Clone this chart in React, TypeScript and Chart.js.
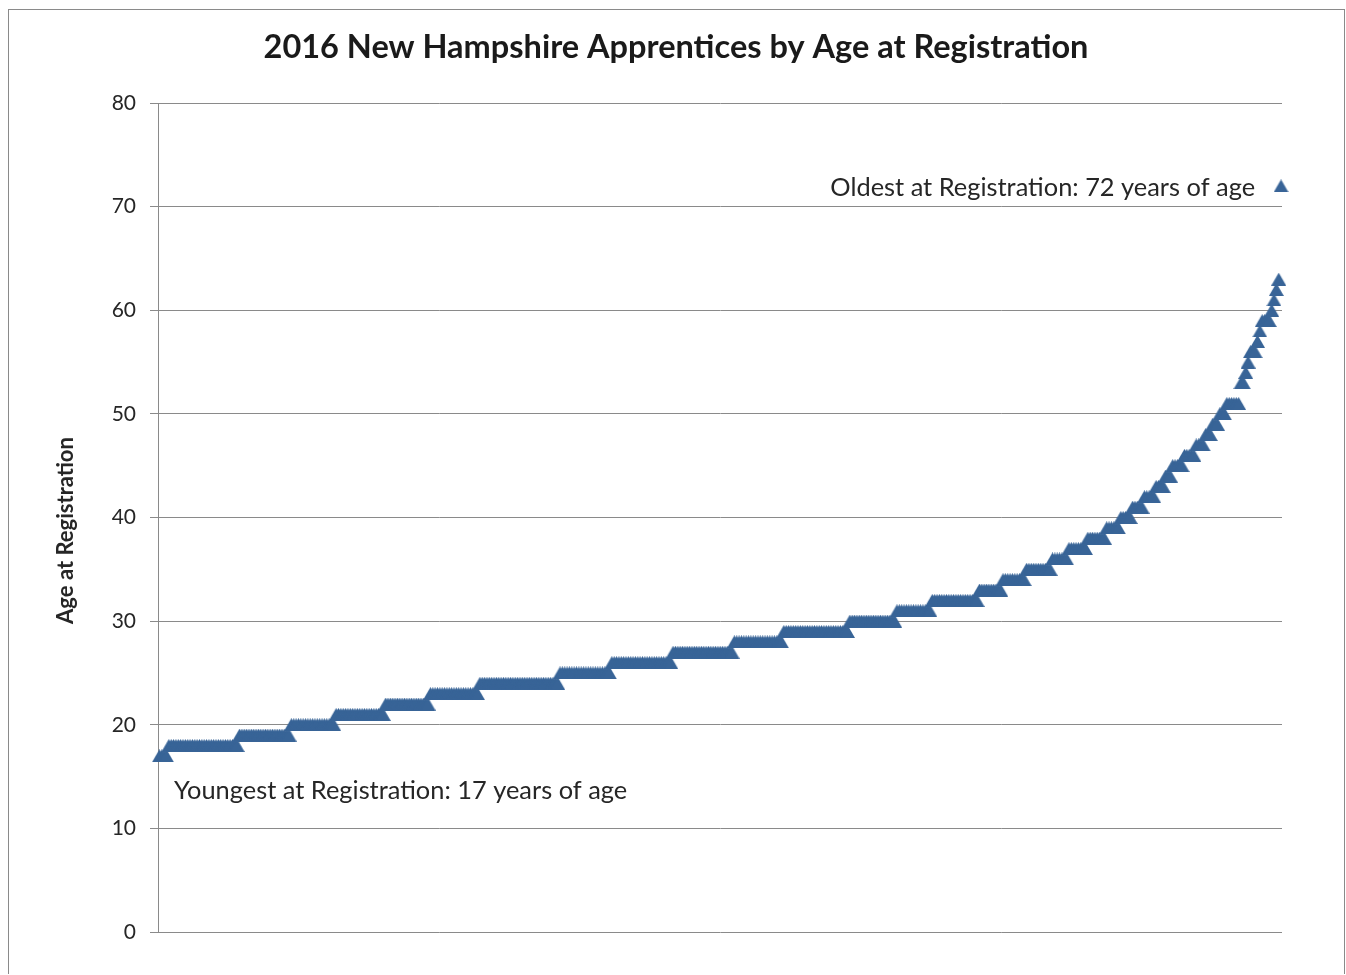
import React, { useEffect, useRef } from 'react';
import { Chart, registerables } from 'chart.js';

Chart.register(...registerables);

const chartTitle = '2016 New Hampshire Apprentices by Age at Registration';
const yAxisTitle = 'Age at Registration';
const youngestLabel = 'Youngest at Registration: 17 years of age';
const oldestLabel = 'Oldest at Registration: 72 years of age';

// Age at registration and how many apprentices registered at that age (sorted by age)
const ages = [17, 18, 19, 20, 21, 22, 23, 24, 25, 26, 27, 28, 29, 30, 31, 32, 33, 34, 35, 36, 37, 38, 39, 40, 41, 42, 43, 44, 45, 46, 47, 48, 49, 50, 51, 53, 54, 55, 56, 57, 58, 59, 60, 61, 62, 63, 72];
const counts = [4, 30, 22, 19, 21, 19, 21, 34, 22, 26, 26, 21, 28, 20, 15, 20, 10, 10, 11, 7, 8, 8, 6, 5, 5, 5, 4, 3, 5, 5, 4, 3, 3, 3, 6, 2, 1, 1, 3, 1, 1, 4, 1, 1, 1, 1, 1];
const yTicks = [0, 10, 20, 30, 40, 50, 60, 70, 80];

const MARKER_COLOR = '#386497';
const TEXT_COLOR = '#262626';
const GRID_COLOR = '#8a8a8a';
const FONT = 'Lato, "Open Sans", sans-serif';

function makeTriangle(color: string) {
  const c = document.createElement('canvas');
  c.width = 15;
  c.height = 13;
  const g = c.getContext('2d')!;
  g.fillStyle = color;
  g.beginPath();
  g.moveTo(7.5, 0);
  g.lineTo(15, 13);
  g.lineTo(0, 13);
  g.closePath();
  g.fill();
  return c;
}

export default function App() {
  const ref = useRef<HTMLCanvasElement | null>(null);

  useEffect(() => {
    const canvas = ref.current;
    if (!canvas) return;

    const points: { x: number; y: number }[] = [];
    let idx = 0;
    ages.forEach((age, i) => {
      for (let k = 0; k < counts[i]; k++) {
        idx += 1;
        points.push({ x: idx, y: age });
      }
    });
    const total = idx;

    const annotations = {
      id: 'annotations',
      afterDatasetsDraw(chart: any) {
        const { ctx, chartArea, scales } = chart;
        const xs = scales.x;
        const ys = scales.y;
        ctx.save();
        ctx.fillStyle = TEXT_COLOR;
        ctx.font = `25.4px ${FONT}`;
        ctx.textBaseline = 'middle';
        ctx.textAlign = 'right';
        ctx.fillText(oldestLabel, xs.getPixelForValue(total) - 26, ys.getPixelForValue(72) + 2);
        ctx.textAlign = 'left';
        ctx.fillText(youngestLabel, chartArea.left + 16, ys.getPixelForValue(17) + 35);
        ctx.translate(57, (chartArea.top + chartArea.bottom) / 2 + 13);
        ctx.rotate(-Math.PI / 2);
        ctx.textAlign = 'center';
        ctx.font = `bold 22px ${FONT}`;
        ctx.fillText(yAxisTitle, 0, 0);
        ctx.restore();
      },
    };

    const chart = new Chart(canvas, {
      type: 'scatter',
      data: {
        datasets: [
          {
            data: points,
            pointStyle: makeTriangle(MARKER_COLOR) as any,
            pointRadius: 7,
            backgroundColor: MARKER_COLOR,
            borderWidth: 0,
            clip: false as any,
          },
        ],
      },
      options: {
        animation: false,
        responsive: false,
        devicePixelRatio: 1,
        layout: { padding: { left: 0, right: 0, top: 0, bottom: 42 } },
        plugins: {
          legend: { display: false },
          tooltip: { enabled: false },
          title: {
            display: true,
            text: chartTitle,
            color: '#1a1a1a',
            font: { family: FONT, size: 32.5, weight: 'bold', lineHeight: 1.2 },
            padding: { top: 18, bottom: 36 },
          },
        },
        scales: {
          x: {
            type: 'linear',
            display: false,
            min: 0.4,
            max: total + 0.4,
          },
          y: {
            min: 0,
            max: 80,
            afterBuildTicks: (scale: any) => {
              scale.ticks = yTicks.map((v) => ({ value: v }));
            },
            afterFit: (scale: any) => {
              scale.width = 149;
            },
            grid: {
              color: GRID_COLOR,
              lineWidth: 1,
              drawTicks: true,
              tickLength: 8,
              tickColor: GRID_COLOR,
            },
            border: { display: true, color: GRID_COLOR, width: 1 },
            ticks: {
              color: TEXT_COLOR,
              padding: 14,
              font: { family: FONT, size: 21 },
            },
          },
          yRight: {
            type: 'linear',
            position: 'right',
            min: 0,
            max: 80,
            grid: { display: false, drawTicks: false },
            border: { display: false },
            ticks: { display: false },
            afterFit: (scale: any) => {
              scale.width = 61;
            },
          },
        },
      },
      plugins: [annotations],
    });

    return () => chart.destroy();
  }, []);

  return (
    <div
      style={{
        position: 'absolute',
        left: 8,
        top: 9,
        width: 1337,
        height: 965,
        boxSizing: 'border-box',
        borderTop: '1px solid #8a8a8a',
        borderLeft: '1px solid #8a8a8a',
        borderRight: '1px solid #8a8a8a',
        background: '#fff',
      }}
    >
      <canvas ref={ref} width={1334} height={964} style={{ display: 'block' }} />
    </div>
  );
}
